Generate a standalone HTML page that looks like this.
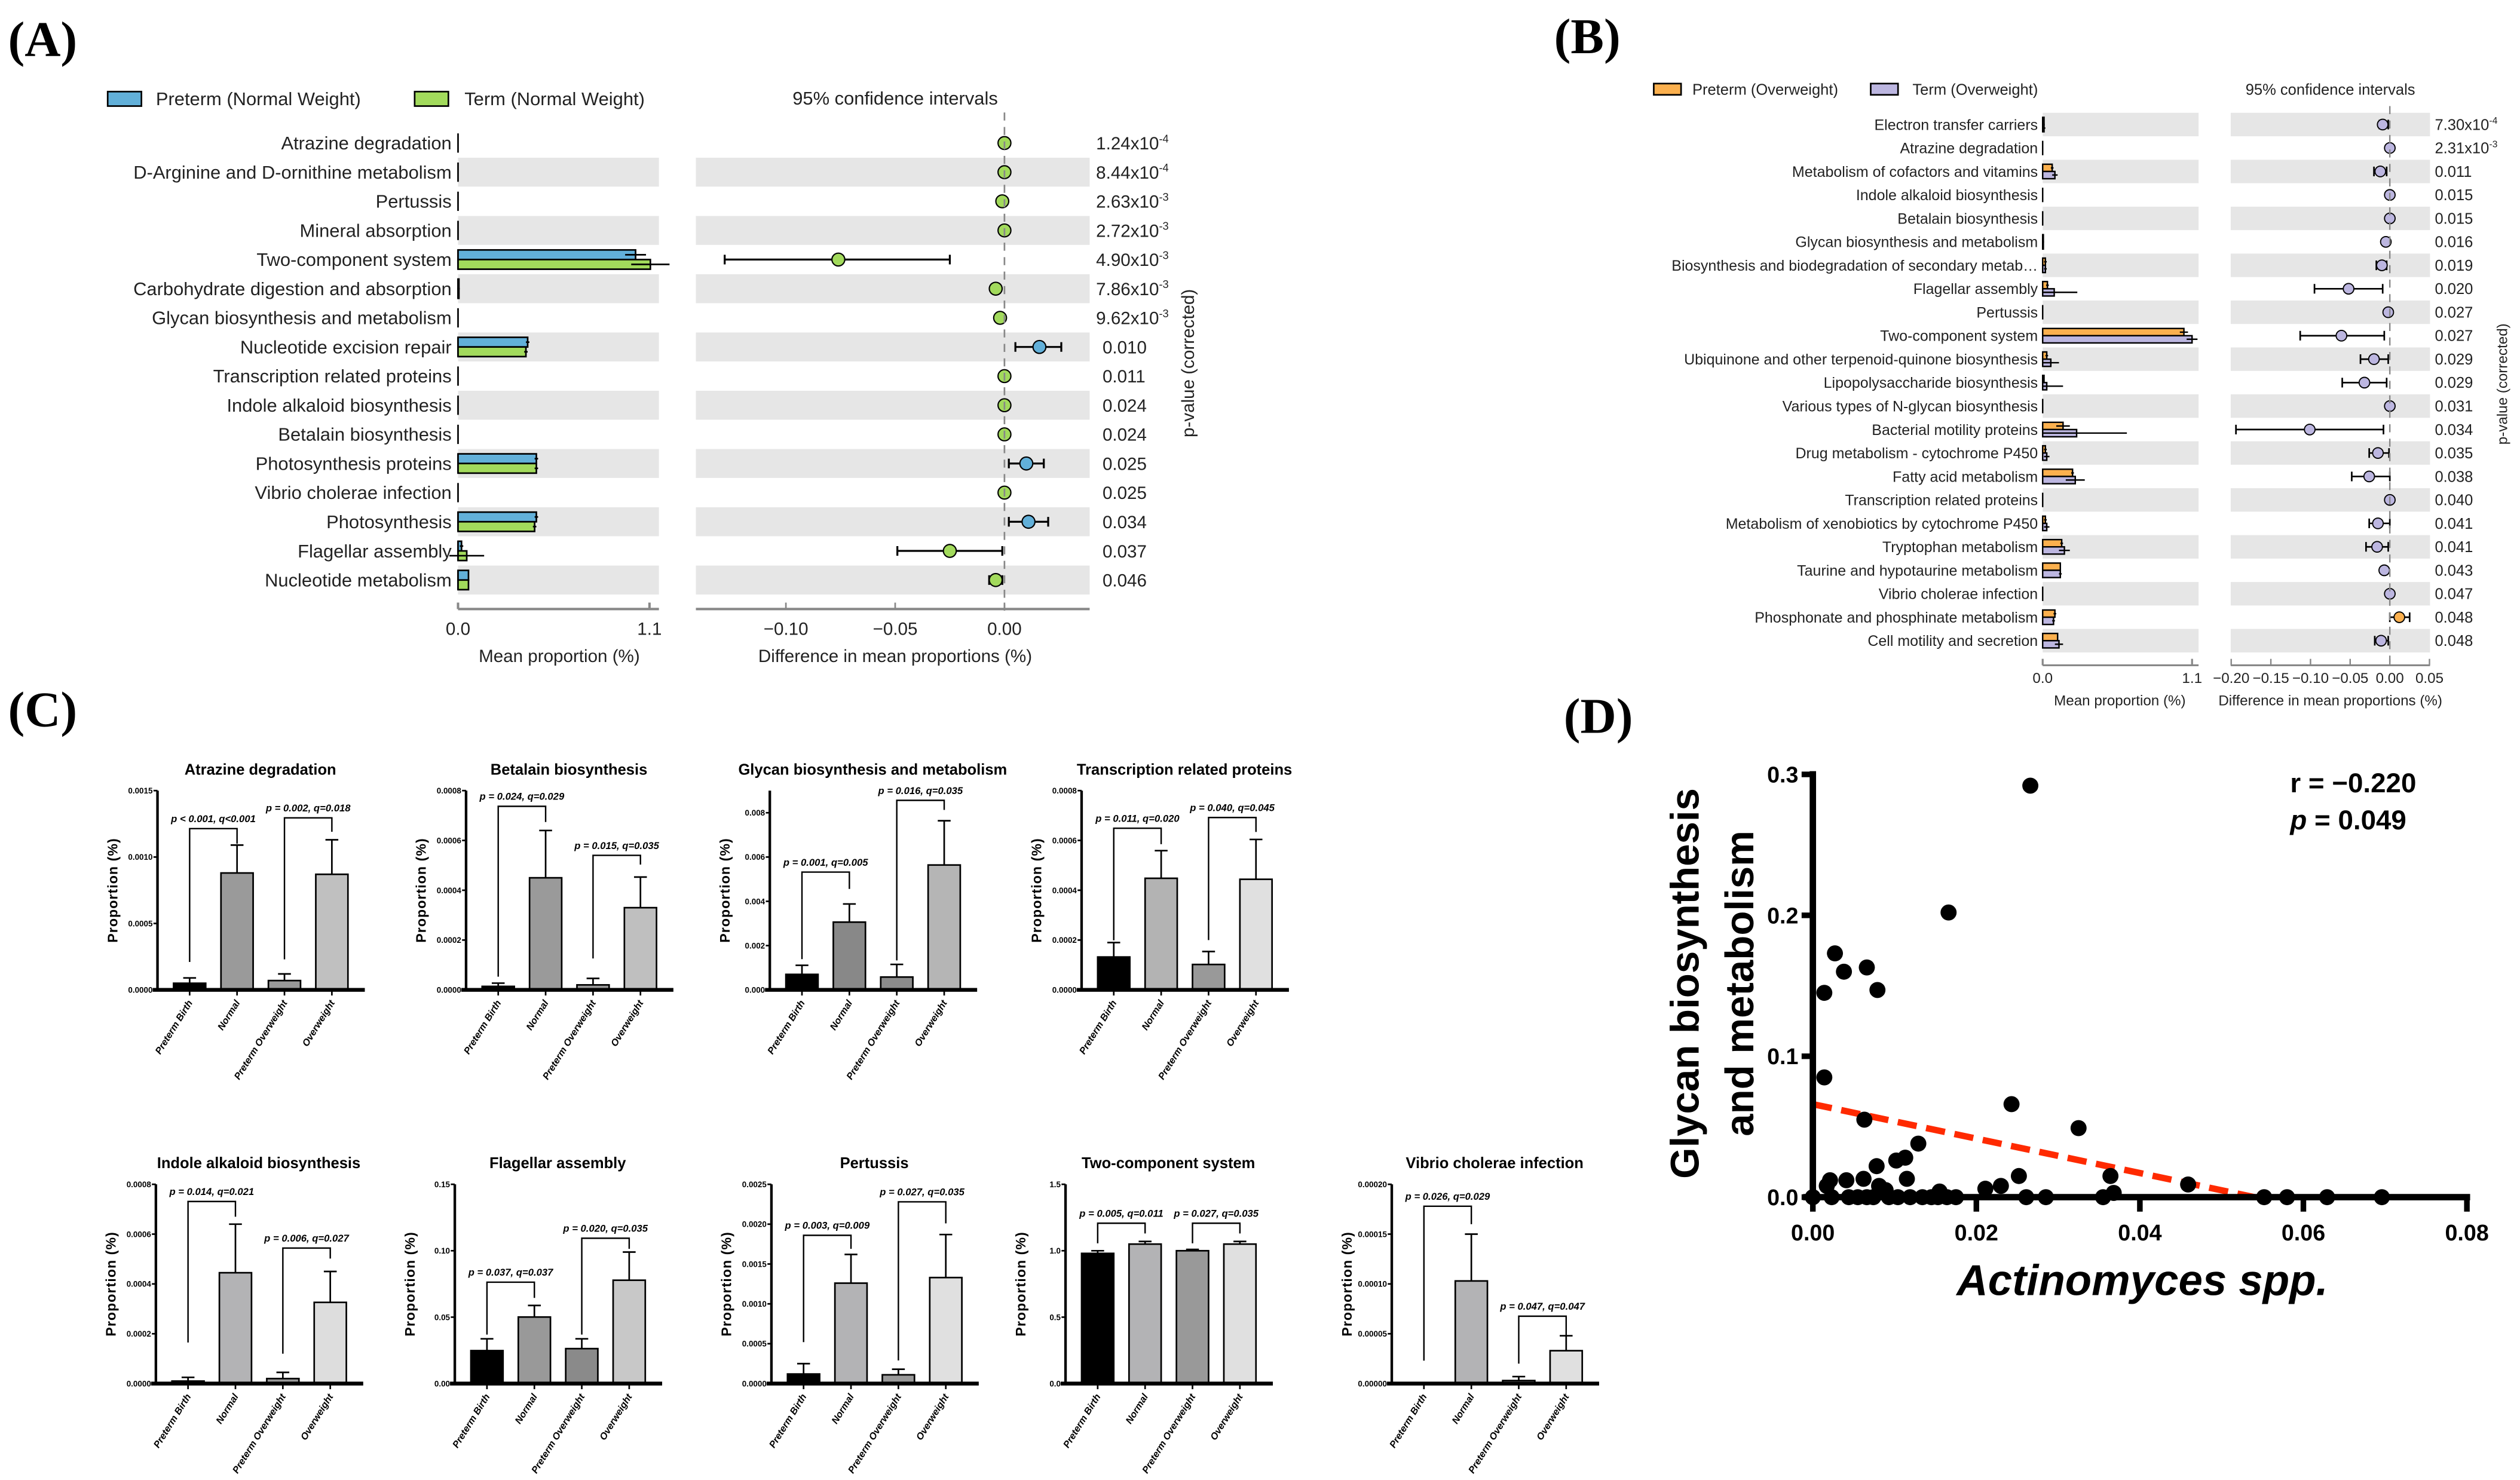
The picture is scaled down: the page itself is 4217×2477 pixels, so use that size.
<!DOCTYPE html>
<html><head><meta charset="utf-8"><title>Figure</title>
<style>
html,body{margin:0;padding:0;background:#fff;}
svg{display:block;font-family:"Liberation Sans",sans-serif;}
</style></head>
<body>
<svg id="fig" xmlns="http://www.w3.org/2000/svg" width="4217" height="2477" viewBox="0 0 1568 921">
<rect x="0" y="0" width="1568" height="921" fill="#fff"/>
<text x="5" y="35" font-family="Liberation Serif" font-weight="bold" font-size="31">(A)</text>
<text x="967" y="33" font-family="Liberation Serif" font-weight="bold" font-size="31">(B)</text>
<text x="5" y="452" font-family="Liberation Serif" font-weight="bold" font-size="31">(C)</text>
<text x="973" y="456" font-family="Liberation Serif" font-weight="bold" font-size="31">(D)</text>
</svg>
<script>
// ---------- Panel A data ----------
const aLabels=["Atrazine degradation","D-Arginine and D-ornithine metabolism","Pertussis","Mineral absorption","Two-component system","Carbohydrate digestion and absorption","Glycan biosynthesis and metabolism","Nucleotide excision repair","Transcription related proteins","Indole alkaloid biosynthesis","Betalain biosynthesis","Photosynthesis proteins","Vibrio cholerae infection","Photosynthesis","Flagellar assembly","Nucleotide metabolism"];
const aPreterm=[0,0,0,0,1.02,0.005,0,0.40,0,0,0,0.45,0,0.45,0.02,0.06];
const aTerm=[0,0,0,0,1.105,0.005,0,0.39,0,0,0,0.45,0,0.44,0.05,0.06];
const aPretermErr=[0,0,0,0,0.06,0,0,0.01,0,0,0,0.01,0,0.01,0.01,0];
const aTermErr=[0,0,0,0,0.11,0,0,0.01,0,0,0,0.01,0,0.01,0.10,0];
const aDiff=[0,0,-0.001,0,-0.076,-0.004,-0.002,0.016,0,0,0,0.010,0,0.011,-0.025,-0.004];
const aLo=[0,0,-0.001,0,-0.128,-0.006,-0.003,0.005,0,0,0,0.002,0,0.002,-0.049,-0.007];
const aHi=[0,0,-0.001,0,-0.025,-0.002,-0.001,0.026,0,0,0,0.018,0,0.020,-0.001,-0.001];
const aPvals=["1.24x10-4","8.44x10-4","2.63x10-3","2.72x10-3","4.90x10-3","7.86x10-3","9.62x10-3","0.010","0.011","0.024","0.024","0.025","0.025","0.034","0.037","0.046"];
const aDiffTicks=[-0.10,-0.05,0.00];
const aDiffTickLabels=["\u22120.10","\u22120.05","0.00"];
// ---------- Panel B data ----------
const bLabels=["Electron transfer carriers","Atrazine degradation","Metabolism of cofactors and vitamins","Indole alkaloid biosynthesis","Betalain biosynthesis","Glycan biosynthesis and metabolism","Biosynthesis and biodegradation of secondary metab\u2026","Flagellar assembly","Pertussis","Two-component system","Ubiquinone and other terpenoid-quinone biosynthesis","Lipopolysaccharide biosynthesis","Various types of N-glycan biosynthesis","Bacterial motility proteins","Drug metabolism - cytochrome P450","Fatty acid metabolism","Transcription related proteins","Metabolism of xenobiotics by cytochrome P450","Tryptophan metabolism","Taurine and hypotaurine metabolism","Vibrio cholerae infection","Phosphonate and phosphinate metabolism","Cell motility and secretion"];
const bPreterm=[0.01,0,0.07,0,0,0.005,0.02,0.035,0,1.04,0.03,0.01,0,0.15,0.02,0.22,0,0.02,0.14,0.13,0,0.09,0.11];
const bTerm=[0.01,0,0.09,0,0,0.005,0.02,0.085,0,1.10,0.06,0.03,0,0.25,0.03,0.24,0,0.03,0.16,0.13,0,0.08,0.12];
const bPretermErr=[0,0,0.01,0,0,0,0.01,0.01,0,0.03,0.01,0,0,0.05,0.01,0.01,0,0.01,0.01,0,0,0.01,0];
const bTermErr=[0.01,0,0.02,0,0,0,0.01,0.17,0,0.04,0.06,0.12,0,0.37,0.02,0.07,0,0.02,0.04,0.01,0,0.01,0.03];
const bDiff=[-0.009,0,-0.012,0,0,-0.005,-0.010,-0.052,-0.002,-0.061,-0.020,-0.032,0,-0.101,-0.015,-0.026,0,-0.015,-0.016,-0.007,0,0.012,-0.011];
const bLo=[-0.013,0,-0.020,0,0,-0.007,-0.017,-0.095,-0.002,-0.113,-0.037,-0.060,0,-0.194,-0.026,-0.048,0,-0.026,-0.030,-0.009,0,0,-0.019];
const bHi=[-0.002,0,-0.004,0,0,-0.003,-0.004,-0.009,-0.002,-0.007,-0.002,-0.004,0,-0.008,-0.001,0,0,0,-0.002,-0.005,0,0.025,-0.002];
const bPvals=["7.30x10-4","2.31x10-3","0.011","0.015","0.015","0.016","0.019","0.020","0.027","0.027","0.029","0.029","0.031","0.034","0.035","0.038","0.040","0.041","0.041","0.043","0.047","0.048","0.048"];
const bDiffTicks=[-0.20,-0.15,-0.10,-0.05,0.00,0.05];
const bDiffTickLabels=["\u22120.20","\u22120.15","\u22120.10","\u22120.05","0.00","0.05"];
// ---------- Panel C data ----------
const cTitles=["Atrazine degradation","Betalain biosynthesis","Glycan biosynthesis and metabolism","Transcription related proteins","Indole alkaloid biosynthesis","Flagellar assembly","Pertussis","Two-component system","Vibrio cholerae infection"];
const cGroups=["Preterm Birth","Normal","Preterm Overweight","Overweight"];
const cMax=[0.0015,0.0008,0.009,0.0008,0.0008,0.15,0.0025,1.5,0.0002];
const cTickLabels=[["0.0000","0.0005","0.0010","0.0015"],["0.0000","0.0002","0.0004","0.0006","0.0008"],["0.000","0.002","0.004","0.006","0.008"],["0.0000","0.0002","0.0004","0.0006","0.0008"],["0.0000","0.0002","0.0004","0.0006","0.0008"],["0.00","0.05","0.10","0.15"],["0.0000","0.0005","0.0010","0.0015","0.0020","0.0025"],["0.0","0.5","1.0","1.5"],["0.00000","0.00005","0.00010","0.00015","0.00020"]];
const cMeans=[[0.00005,0.00088,0.00007,0.00087],[0.000014,0.00045,0.00002,0.00033],[0.0007,0.00306,0.00058,0.00564],[0.000132,0.000448,0.000102,0.000444],[0.00001,0.000445,0.00002,0.000326],[0.0248,0.0501,0.0263,0.0778],[0.00012,0.00126,0.00011,0.00133],[0.98,1.05,1.0,1.05],[0,0.000103,0.000003,0.000033]];
const cErrTops=[[0.00009,0.00109,0.00012,0.00113],[0.000027,0.00064,0.000046,0.000453],[0.00111,0.00388,0.00115,0.00764],[0.00019,0.000559,0.000154,0.000604],[0.000025,0.00064,0.000045,0.00045],[0.0337,0.0588,0.0337,0.099],[0.00025,0.00162,0.00018,0.00187],[1.0,1.07,1.01,1.07],[0,0.00015,0.000007,0.000048]];
const cBarColors=[["#000","#9a9a9a","#999","#c0c0c0"],["#000","#9a9a9a","#999","#bfbfbf"],["#000","#888","#8c8c8c","#b5b5b5"],["#000","#b3b3b3","#999","#e0e0e0"],["#000","#b3b3b5","#999","#dddddd"],["#000","#999","#8a8a8a","#c8c8c8"],["#000","#b3b3b5","#999","#e0e0e0"],["#000","#b3b3b5","#999","#e0e0e0"],["#000","#b3b3b5","#999","#e0e0e0"]];
// bracket: [barLeft, barRight, topValue, leftLegEnd, rightLegEnd]
const cBrackets=[[[0,1,0.001214,0.00021,0.0011],[2,3,0.001295,0.00023,0.00119]],[[0,1,0.000737,0.000053,0.000674],[2,3,0.00054,0.000126,0.000503]],[[0,1,0.00532,0.00139,0.00456],[2,3,0.00856,0.00133,0.00813]],[[0,1,0.000649,0.000199,0.000585],[2,3,0.000692,0.0002,0.000634]],[[0,1,0.000731,0.000165,0.00067],[2,3,0.000544,0.00012,0.000502]],[[0,1,0.0763,0.0369,0.0645],[2,3,0.1094,0.0369,0.1014]],[[0,1,0.00186,0.00052,0.00169],[2,3,0.00228,0.00029,0.00201]],[[0,1,1.207,1.056,1.13],[2,3,1.207,1.056,1.13]],[[0,1,0.000178,0.000023,0.00016],[2,3,0.0000676,0.00002,0.000048]]];
const cBracketLabels=[["p < 0.001, q<0.001","p = 0.002, q=0.018"],["p = 0.024, q=0.029","p = 0.015, q=0.035"],["p = 0.001, q=0.005","p = 0.016, q=0.035"],["p = 0.011, q=0.020","p = 0.040, q=0.045"],["p = 0.014, q=0.021","p = 0.006, q=0.027"],["p = 0.037, q=0.037","p = 0.020, q=0.035"],["p = 0.003, q=0.009","p = 0.027, q=0.035"],["p = 0.005, q=0.011","p = 0.027, q=0.035"],["p = 0.026, q=0.029","p = 0.047, q=0.047"]];
// ---------- Panel D data ----------
const dX=[0.0266,0.0166,0.0027,0.0038,0.0066,0.0014,0.0079,0.0014,0.0243,0.0063,0.0325,0.0129,0.0078,0.0102,0.0113,0.0364,0.0252,0.0459,0.0230,0.0211,0.0115,0.0062,0.0041,0.0021,0.0017,0.0081,0.0089,0.0155,0.0368,0,0.0023,0.0044,0.0055,0.0066,0.0074,0.0093,0.0104,0.0119,0.0134,0.0145,0.0153,0.0164,0.0175,0.0261,0.0285,0.0355,0.0552,0.058,0.0629,0.0696];
const dY=[0.292,0.202,0.173,0.160,0.163,0.145,0.147,0.085,0.066,0.055,0.049,0.038,0.022,0.026,0.028,0.015,0.015,0.009,0.008,0.006,0.013,0.013,0.012,0.012,0.008,0.008,0.005,0.004,0.003,0,0,0,0,0,0,0,0,0,0,0,0,0,0,0,0,0,0,0,0,0];
const dTrend=[[0,0.066],[0.054,0]];
const dXTicks=[0,0.02,0.04,0.06,0.08];
const dXTickLabels=["0.00","0.02","0.04","0.06","0.08"];
const dYTicks=[0,0.1,0.2,0.3];
const dYTickLabels=["0.0","0.1","0.2","0.3"];

const NS='http://www.w3.org/2000/svg';
const svg=document.getElementById('fig');
function mk(tag,attrs,parent){const e=document.createElementNS(NS,tag);for(const k in attrs)e.setAttribute(k,attrs[k]);(parent||svg).appendChild(e);return e;}
function tx(str,attrs,parent){const e=mk('text',attrs,parent);e.textContent=str;return e;}
function ptext(str,x,y,fs,name){
  const t=mk('text',{x:x,y:y,'font-size':fs,fill:'#222'});
  
  
  const m=str.match(/^(.*x10)(-\d)$/);
  if(m){t.textContent=m[1];const s=mk('tspan',{'font-size':fs*0.62,dy:-fs*0.4},t);s.textContent=m[2];}
  else t.textContent=str;
  return t;
}

// ================= PANEL A =================
(function(){
  const g=mk('g',{});
  
  
  const y0=89,dy=18.13;
  const xL=v=>285+v*108.3, xR=v=>625+v*1360;
  const rowY=i=>y0+i*dy;
  let e;
  e=mk('rect',{x:67,y:57,width:21,height:9,fill:'#62b0d9',stroke:'#000','stroke-width':1},g);
  
  
  e=tx('Preterm (Normal Weight)',{x:97,y:65.5,'font-size':11.5,fill:'#222'},g);
  
  
  e=mk('rect',{x:258,y:57,width:21,height:9,fill:'#a2da5c',stroke:'#000','stroke-width':1},g);
  
  
  e=tx('Term (Normal Weight)',{x:289,y:65.5,'font-size':11.5,fill:'#222'},g);
  
  
  e=tx('95% confidence intervals',{x:557,y:65,'font-size':11.5,'text-anchor':'middle',fill:'#222'},g);
  
  
  aLabels.forEach((lab,i)=>{
    const y=rowY(i);
    if(i%2===1){
      e=mk('rect',{x:285,y:y-9,width:125,height:18,fill:'#e6e6e6'},g);
      
      
      e=mk('rect',{x:433,y:y-9,width:245,height:18,fill:'#e6e6e6'},g);
      
      
    }
    e=tx(lab,{x:281,y:y+4,'font-size':11.5,'text-anchor':'end',fill:'#222'},g);
    
    
    e=mk('line',{x1:285,x2:285,y1:y-6,y2:y+6,stroke:'#000','stroke-width':1},g);
    
    
    if(aPreterm[i]>0){
      e=mk('rect',{x:285,y:y-6,width:xL(aPreterm[i])-285,height:6,fill:'#62b0d9',stroke:'#000','stroke-width':1},g);
      
      
    }
    if(aTerm[i]>0){
      e=mk('rect',{x:285,y:y,width:xL(aTerm[i])-285,height:6,fill:'#a2da5c',stroke:'#000','stroke-width':1},g);
      
      
    }
    if(aPretermErr[i]>0){
      e=mk('line',{x1:xL(aPreterm[i]-aPretermErr[i]),x2:xL(aPreterm[i]+aPretermErr[i]),y1:y-3,y2:y-3,stroke:'#000','stroke-width':1},g);
      
      
    }
    if(aTermErr[i]>0){
      e=mk('line',{x1:xL(aTerm[i]-aTermErr[i]),x2:xL(aTerm[i]+aTermErr[i]),y1:y+3,y2:y+3,stroke:'#000','stroke-width':1},g);
      
      
    }
    if(aHi[i]-aLo[i]>0.0015){
      e=mk('path',{d:`M${xR(aLo[i])},${y-3}v6M${xR(aLo[i])},${y}H${xR(aHi[i])}M${xR(aHi[i])},${y-3}v6`,stroke:'#000','stroke-width':1.2,fill:'none'},g);
      
      
    }
    e=mk('circle',{cx:xR(aDiff[i]),cy:y,r:4,fill:aDiff[i]>0?'#62b0d9':'#a2da5c',stroke:'#000','stroke-width':0.8},g);
    
    
    ptext(aPvals[i],aPvals[i].indexOf('x')>0?682:686,y+4,11,'p-value');
  });
  e=mk('line',{x1:xR(0),x2:xR(0),y1:70,y2:380,stroke:'#888','stroke-width':1,'stroke-dasharray':'5,4'},g);
  
  
  e=mk('path',{d:`M285,379H410M${xL(0)},379v-4M${xL(1.1)},379v-4`,stroke:'#888','stroke-width':1.5,fill:'none'},g);
  
  
  e=tx('0.0',{x:xL(0),y:395,'font-size':11,'text-anchor':'middle',fill:'#222'},g);
  
  
  e=tx('1.1',{x:xL(1.1),y:395,'font-size':11,'text-anchor':'middle',fill:'#222'},g);
  
  
  e=mk('line',{x1:433,x2:678,y1:379,y2:379,stroke:'#888','stroke-width':1.5},g);
  
  
  aDiffTicks.forEach((t,k)=>{
    e=mk('line',{x1:xR(t),x2:xR(t),y1:379,y2:375,stroke:'#888','stroke-width':1},g);
    
    
    e=tx(aDiffTickLabels[k],{x:xR(t),y:395,'font-size':11,'text-anchor':'middle',fill:'#222'},g);
    
    
  });
  e=tx('Mean proportion (%)',{x:348,y:412,'font-size':11,'text-anchor':'middle',fill:'#222'},g);
  
  
  e=tx('Difference in mean proportions (%)',{x:557,y:412,'font-size':11,'text-anchor':'middle',fill:'#222'},g);
  
  
  e=tx('p-value (corrected)',{x:0,y:0,'font-size':11,'text-anchor':'middle',fill:'#222',transform:'translate(743,226) rotate(-90)'},g);
  
  
})();

// ================= PANEL B =================
(function(){
  const g=mk('g',{});
  
  
  const y0=77.5,dy=14.6;
  const xL=v=>1271+v*84.5, xR=v=>1487+v*493.5;
  const rowY=i=>y0+i*dy;
  let e;
  e=mk('rect',{x:1029,y:52,width:17,height:7,fill:'#fbb04e',stroke:'#000','stroke-width':1},g);
  
  
  e=tx('Preterm (Overweight)',{x:1053,y:59,'font-size':9.5,fill:'#222'},g);
  
  
  e=mk('rect',{x:1164,y:52,width:17,height:7,fill:'#bcb6e0',stroke:'#000','stroke-width':1},g);
  
  
  e=tx('Term (Overweight)',{x:1190,y:59,'font-size':9.5,fill:'#222'},g);
  
  
  e=tx('95% confidence intervals',{x:1450,y:59,'font-size':9.5,'text-anchor':'middle',fill:'#222'},g);
  
  
  bLabels.forEach((lab,i)=>{
    const y=rowY(i);
    if(i%2===0){
      e=mk('rect',{x:1271,y:y-7.3,width:97,height:14.6,fill:'#e6e6e6'},g);
      
      
      e=mk('rect',{x:1388,y:y-7.3,width:124,height:14.6,fill:'#e6e6e6'},g);
      
      
    }
    e=tx(lab,{x:1268,y:y+3.3,'font-size':9.3,'text-anchor':'end',fill:'#222'},g);
    
    
    e=mk('line',{x1:1271,x2:1271,y1:y-4.5,y2:y+4.5,stroke:'#000','stroke-width':0.9},g);
    
    
    if(bPreterm[i]>0){
      e=mk('rect',{x:1271,y:y-4.5,width:xL(bPreterm[i])-1271,height:4.5,fill:'#fbb04e',stroke:'#000','stroke-width':0.9},g);
      
      
    }
    if(bTerm[i]>0){
      e=mk('rect',{x:1271,y:y,width:xL(bTerm[i])-1271,height:4.5,fill:'#bcb6e0',stroke:'#000','stroke-width':0.9},g);
      
      
    }
    if(bPretermErr[i]>0){
      e=mk('line',{x1:xL(bPreterm[i]-bPretermErr[i]),x2:xL(bPreterm[i]+bPretermErr[i]),y1:y-2.2,y2:y-2.2,stroke:'#000','stroke-width':0.9},g);
      
      
    }
    if(bTermErr[i]>0){
      e=mk('line',{x1:xL(Math.max(0,bTerm[i]-bTermErr[i])),x2:xL(bTerm[i]+bTermErr[i]),y1:y+2.2,y2:y+2.2,stroke:'#000','stroke-width':0.9},g);
      
      
    }
    if(bHi[i]-bLo[i]>0.003){
      e=mk('path',{d:`M${xR(bLo[i])},${y-3}v6M${xR(bLo[i])},${y}H${xR(bHi[i])}M${xR(bHi[i])},${y-3}v6`,stroke:'#000','stroke-width':1,fill:'none'},g);
      
      
    }
    e=mk('circle',{cx:xR(bDiff[i]),cy:y,r:3.3,fill:bDiff[i]>0?'#fbb04e':'#bcb6e0',stroke:'#000','stroke-width':0.7},g);
    
    
    ptext(bPvals[i],1515,y+3.3,9.5,'p-value');
  });
  e=mk('line',{x1:xR(0),x2:xR(0),y1:66,y2:412,stroke:'#888','stroke-width':0.9,'stroke-dasharray':'5,4'},g);
  
  
  e=mk('path',{d:`M1271,414H1368M${xL(0)},414v-4M${xL(1.1)},414v-4`,stroke:'#888','stroke-width':1.2,fill:'none'},g);
  
  
  e=tx('0.0',{x:xL(0),y:425,'font-size':9,'text-anchor':'middle',fill:'#222'},g);
  
  
  e=tx('1.1',{x:xL(1.1),y:425,'font-size':9,'text-anchor':'middle',fill:'#222'},g);
  
  
  e=mk('line',{x1:1388,x2:1512,y1:414,y2:414,stroke:'#888','stroke-width':1.2},g);
  
  
  bDiffTicks.forEach((t,k)=>{
    e=mk('line',{x1:xR(t),x2:xR(t),y1:414,y2:410,stroke:'#888','stroke-width':0.9},g);
    
    
    e=tx(bDiffTickLabels[k],{x:xR(t),y:425,'font-size':9,'text-anchor':'middle',fill:'#222'},g);
    
    
  });
  e=tx('Mean proportion (%)',{x:1319,y:439,'font-size':9,'text-anchor':'middle',fill:'#222'},g);
  
  
  e=tx('Difference in mean proportions (%)',{x:1450,y:439,'font-size':9,'text-anchor':'middle',fill:'#222'},g);
  
  
  e=tx('p-value (corrected)',{x:0,y:0,'font-size':9,'text-anchor':'middle',fill:'#222',transform:'translate(1560,239) rotate(-90)'},g);
  
  
})();

// ================= PANEL C =================
(function(){
  const cX0=[98,290,479,673,97,283,480,663,866];
  const cTop=[492,492,492,492,737,737,737,737,737];
  const H=124;
  cTitles.forEach((title,c)=>{
    const g=mk('g',{});
    
    
    const X0=cX0[c],top=cTop[c],zero=top+H;
    const yS=v=>zero-v/cMax[c]*H;
    const xC=i=>X0+20+29.5*i;
    let e;
    e=tx(title,{x:X0+64,y:top-10,'font-size':9.5,'font-weight':'bold','text-anchor':'middle',fill:'#000'},g);
    
    
    e=tx('Proportion (%)',{x:0,y:0,'font-size':8.6,'font-weight':'bold','text-anchor':'middle','letter-spacing':'0.4',fill:'#000',transform:`translate(${X0-25},${top+62}) rotate(-90)`},g);
    
    
    cTickLabels[c].forEach(lbl=>{
      const v=parseFloat(lbl);
      e=mk('line',{x1:X0-2.5,x2:X0,y1:yS(v),y2:yS(v),stroke:'#000','stroke-width':1},g);
      
      
      e=tx(lbl,{x:X0-3,y:yS(v)+1.8,'font-size':5,'font-weight':'bold','text-anchor':'end',fill:'#000'},g);
      
      
    });
    cMeans[c].forEach((v,i)=>{
      const x=xC(i);
      if(cErrTops[c][i]>v){
        e=mk('path',{d:`M${x},${yS(v)}V${yS(cErrTops[c][i])}M${x-4},${yS(cErrTops[c][i])}H${x+4}`,stroke:'#000','stroke-width':1,fill:'none'},g);
        
        
      }
      e=mk('rect',{x:x-10,y:yS(v),width:20,height:zero-yS(v),fill:cBarColors[c][i],stroke:'#000','stroke-width':1},g);
      
      
      e=mk('line',{x1:x,x2:x,y1:zero,y2:zero+3.5,stroke:'#000','stroke-width':1},g);
      
      
      e=tx(cGroups[i],{x:0,y:0,'font-size':6,'font-weight':'bold','font-style':'italic','text-anchor':'end',fill:'#000',transform:`translate(${x+2},${zero+8}) rotate(-58)`},g);
      
      
    });
    e=mk('line',{x1:X0,x2:X0,y1:top,y2:zero,stroke:'#000','stroke-width':1.6},g);
    
    
    e=mk('line',{x1:X0-3,x2:X0+129,y1:zero,y2:zero,stroke:'#000','stroke-width':2.4},g);
    
    
    cBrackets[c].forEach((b,k)=>{
      const xa=xC(b[0]),xb=xC(b[1]),yt=yS(b[2]);
      e=mk('path',{d:`M${xa},${yS(b[3])}V${yt}H${xb}V${yS(b[4])}`,stroke:'#000','stroke-width':0.9,fill:'none'},g);
      
      
      e=tx(cBracketLabels[c][k],{x:(xa+xb)/2,y:yt-4,'font-size':6.2,'font-weight':'bold','font-style':'italic','text-anchor':'middle',fill:'#000'},g);
      
      
    });
  });
})();

// ================= PANEL D =================
(function(){
  const g=mk('g',{});
  
  
  const xS=v=>1128+v*5087, yS=v=>745-v*877;
  let e;
  e=mk('line',{x1:xS(dTrend[0][0]),y1:yS(dTrend[0][1]),x2:xS(dTrend[1][0]),y2:yS(dTrend[1][1]),stroke:'#ff2a00','stroke-width':4,'stroke-dasharray':'12,6'},g);
  
  
  dX.forEach((x,i)=>{
    e=mk('circle',{cx:xS(x),cy:yS(dY[i]),r:5,fill:'#000'},g);
    
    
  });
  e=mk('line',{x1:xS(0),x2:xS(0),y1:yS(0.3)-2,y2:yS(0)+2,stroke:'#000','stroke-width':4},g);
  
  
  e=mk('line',{x1:xS(0)-6,x2:xS(0.08)+2,y1:yS(0),y2:yS(0),stroke:'#000','stroke-width':4},g);
  
  
  dXTicks.forEach((t,k)=>{
    e=mk('line',{x1:xS(t),x2:xS(t),y1:yS(0),y2:yS(0)+9,stroke:'#000','stroke-width':3.5},g);
    
    
    e=tx(dXTickLabels[k],{x:xS(t),y:772,'font-size':14,'font-weight':'bold','text-anchor':'middle',fill:'#000'},g);
    
    
  });
  dYTicks.forEach((t,k)=>{
    e=mk('line',{x1:xS(0)-7,x2:xS(0),y1:yS(t),y2:yS(t),stroke:'#000','stroke-width':3.5},g);
    
    
    e=tx(dYTickLabels[k],{x:1119,y:yS(t)+5,'font-size':14,'font-weight':'bold','text-anchor':'end',fill:'#000'},g);
    
    
  });
  e=tx('Glycan biosynthesis',{x:0,y:0,'font-size':25,'font-weight':'bold','text-anchor':'middle',fill:'#000',transform:'translate(1057,612) rotate(-90)'},g);
  
  
  e=tx('and metabolism',{x:0,y:0,'font-size':25,'font-weight':'bold','text-anchor':'middle',fill:'#000',transform:'translate(1091,612) rotate(-90)'},g);
  
  
  e=tx('Actinomyces spp.',{x:1333,y:806,'font-size':27,'font-weight':'bold','font-style':'italic','text-anchor':'middle',fill:'#000'},g);
  
  
  e=tx('r = \u22120.220',{x:1425,y:493,'font-size':17,'font-weight':'bold',fill:'#000'},g);
  
  
  e=mk('text',{x:1425,y:516,'font-size':17,'font-weight':'bold',fill:'#000'},g);
  
  
  const ts=mk('tspan',{'font-style':'italic'},e); ts.textContent='p';
  const ts2=mk('tspan',{},e); ts2.textContent=' = 0.049';
})();
</script>
</body></html>
